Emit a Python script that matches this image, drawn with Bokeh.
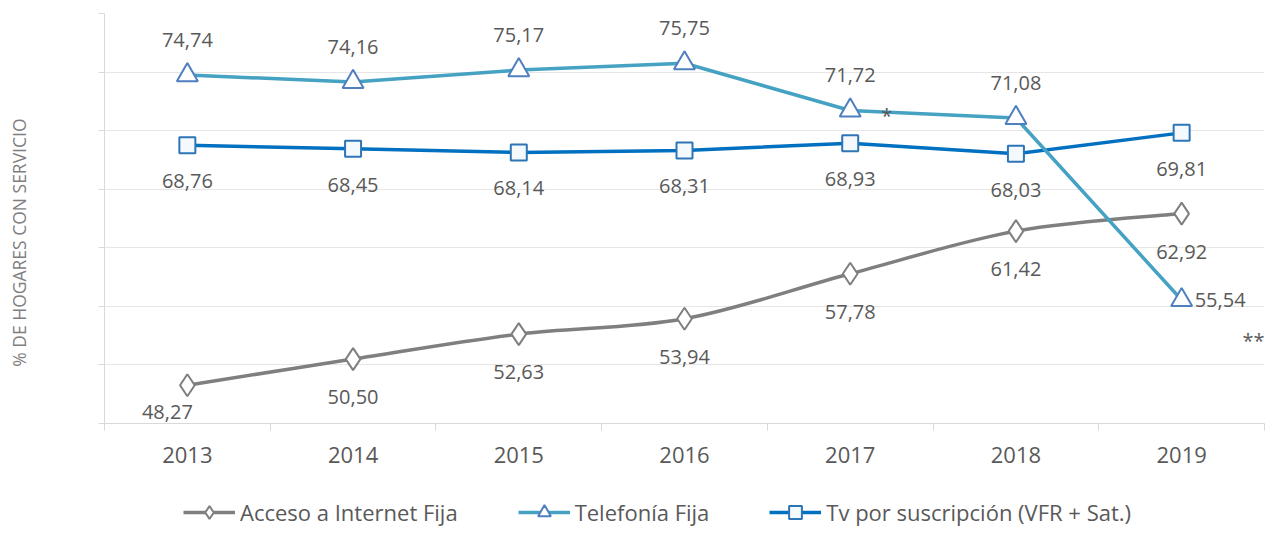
import numpy as np
from bokeh.plotting import figure
from bokeh.layouts import column, row
from bokeh.models import Range1d, FixedTicker, Legend, LegendItem, Label
from bokeh.core.properties import value
from bokeh.embed import file_html
from bokeh.resources import INLINE

# ---------------- data ----------------
years = ["2013", "2014", "2015", "2016", "2017", "2018", "2019"]
internet = [48.27, 50.50, 52.63, 53.94, 57.78, 61.42, 62.92]
telefonia = [74.74, 74.16, 75.17, 75.75, 71.72, 71.08, 55.54]
tv = [68.76, 68.45, 68.14, 68.31, 68.93, 68.03, 69.81]
y_ticks = [45, 50, 55, 60, 65, 70, 75, 80]
legend_labels = ["Acceso a Internet Fija", "Telefonía Fija", "Tv por suscripción (VFR + Sat.)"]
y_title = "% DE HOGARES CON SERVICIO"
note_1 = "*"
note_2 = "**"
note_1_pos = (4.22, 71.3)
note_2_pos = (6.5, 52.1)

FONT = "Open Sans"
TXT = "#595959"
C_INT = "#7F7F7F"
C_TEL = "#45A2C2"
C_TEL_MK = "#4F7FBF"
C_TV = "#0070C0"
C_TV_MK = "#2E75B6"

W_TITLE = 60
W_MAIN = 1210
H_MAIN = 476
H_LEG = 52


def fmt(v):
    return f"{v:.2f}".replace(".", ",")


def bare(fig):
    fig.axis.visible = False
    fig.xgrid.grid_line_color = None
    fig.ygrid.grid_line_color = None
    fig.outline_line_color = None


x = list(range(len(years)))
n = len(x)

# ---------------- y title panel ----------------
pt = figure(width=W_TITLE, height=H_MAIN, output_backend="svg", toolbar_location=None,
            x_range=Range1d(0, W_TITLE), y_range=Range1d(0, H_MAIN), min_border=0)
bare(pt)
pt.add_layout(Label(x=18, y=H_MAIN - 266, text=y_title, angle=np.pi / 2,
                    text_align="center", text_baseline="middle",
                    text_font=FONT, text_font_size="17.5px", text_color="#7F7F7F"))

# ---------------- main chart ----------------
p = figure(width=W_MAIN, height=H_MAIN, output_backend="svg", toolbar_location=None,
           x_range=Range1d(-0.5, n - 0.5), y_range=Range1d(45, 80),
           min_border_left=44, min_border_right=6, min_border_top=13, min_border_bottom=53)
p.outline_line_color = None

xa = p.xaxis[0]
xa.ticker = FixedTicker(ticks=x, minor_ticks=[i - 0.5 for i in range(n + 1)])
xa.major_label_overrides = {i: years[i] for i in x}
xa.major_tick_out = 0
xa.major_tick_in = 0
xa.minor_tick_out = 7
xa.minor_tick_in = 0
xa.minor_tick_line_color = "#D9D9D9"
xa.axis_line_color = "#D9D9D9"
xa.major_label_text_font = FONT
xa.major_label_text_font_size = "22px"
xa.major_label_text_color = TXT
xa.major_label_standoff = 16

ya = p.yaxis[0]
ya.ticker = FixedTicker(ticks=y_ticks, minor_ticks=[])
ya.major_label_overrides = {t: "" for t in y_ticks}
ya.major_label_text_font_size = "1px"
ya.major_tick_out = 6
ya.major_tick_in = 0
ya.major_tick_line_color = "#D9D9D9"
ya.axis_line_color = "#D9D9D9"

p.xgrid.grid_line_color = None
p.ygrid.grid_line_color = "#E6E6E6"

# Internet: smoothed curve (Catmull-Rom -> bezier through the data points)
X = np.array(x, dtype=float)
Y = np.array(internet, dtype=float)
xp = np.concatenate([[X[0]], X, [X[-1]]])
yp = np.concatenate([[Y[0]], Y, [Y[-1]]])
cx0 = X[:-1] + (xp[2:n + 1] - xp[0:n - 1]) / 6
cy0 = Y[:-1] + (yp[2:n + 1] - yp[0:n - 1]) / 6
cx1 = X[1:] - (xp[3:n + 2] - xp[1:n]) / 6
cy1 = Y[1:] - (yp[3:n + 2] - yp[1:n]) / 6
p.bezier(x0=X[:-1], y0=Y[:-1], x1=X[1:], y1=Y[1:], cx0=cx0, cy0=cy0, cx1=cx1, cy1=cy1,
         line_color=C_INT, line_width=3.5)
p.scatter(x, internet, marker="diamond", size=22, fill_color="white", line_color=C_INT, line_width=2)

# Tv
p.line(x, tv, line_color=C_TV, line_width=3.5)
p.scatter(x, tv, marker="square", size=16, fill_color="#F4F9FD", line_color=C_TV_MK, line_width=2)

# Telefonía
p.line(x, telefonia, line_color=C_TEL, line_width=3.5)
p.scatter(x, telefonia, marker="triangle", size=21, fill_color="white", line_color=C_TEL_MK, line_width=2)

# data labels
lbl = dict(text_font=value(FONT), text_font_size="20px", text_color=TXT,
           text_align="center", text_baseline="middle")
p.text(x[1:], internet[1:], text=[fmt(v) for v in internet[1:]], y_offset=38, **lbl)
p.text(x[:1], internet[:1], text=[fmt(v) for v in internet[:1]], x_offset=-20, y_offset=27, **lbl)
p.text(x, tv, text=[fmt(v) for v in tv], y_offset=36, **lbl)
p.text(x[:-1], telefonia[:-1], text=[fmt(v) for v in telefonia[:-1]], y_offset=-35, **lbl)
lbl_r = dict(lbl)
lbl_r["text_align"] = "left"
p.text(x[-1:], telefonia[-1:], text=[fmt(v) for v in telefonia[-1:]], x_offset=13, **lbl_r)

# notes
p.text([note_1_pos[0]], [note_1_pos[1]], text=[note_1], **lbl)
lbl_n = dict(lbl)
lbl_n["text_align"] = "right"
p.text([note_2_pos[0]], [note_2_pos[1]], text=[note_2], **lbl_n)

# ---------------- legend panel ----------------
# legend glyph renderers use the series data, which lies outside this panel's ranges
pl = figure(width=W_TITLE + W_MAIN, height=H_LEG, output_backend="svg", toolbar_location=None,
            x_range=Range1d(-100, -99), y_range=Range1d(-100, -99), min_border=0)
bare(pl)
li_int_l = pl.line(x, internet, line_color=C_INT, line_width=3.5)
li_int_m = pl.scatter(x, internet, marker="diamond", fill_color="white", line_color=C_INT, line_width=2)
li_tel_l = pl.line(x, telefonia, line_color=C_TEL, line_width=3.5)
li_tel_m = pl.scatter(x, telefonia, marker="triangle", fill_color="white", line_color=C_TEL_MK, line_width=2)
li_tv_l = pl.line(x, tv, line_color=C_TV, line_width=3.5)
li_tv_m = pl.scatter(x, tv, marker="square", fill_color="#F4F9FD", line_color=C_TV_MK, line_width=2)

legend = Legend(items=[
    LegendItem(label=legend_labels[0], renderers=[li_int_l, li_int_m]),
    LegendItem(label=legend_labels[1], renderers=[li_tel_l, li_tel_m]),
    LegendItem(label=legend_labels[2], renderers=[li_tv_l, li_tv_m]),
], orientation="horizontal", location=(183, 0))
legend.glyph_width = 52
legend.glyph_height = 32
legend.label_standoff = 5
legend.spacing = 60
legend.padding = 0
legend.margin = 0
legend.border_line_alpha = 0
legend.background_fill_alpha = 0
legend.label_text_font = FONT
legend.label_text_font_size = "22px"
legend.label_text_color = TXT
pl.add_layout(legend, "center")

layout = column(row(pt, p, spacing=0), pl, spacing=0)
open("out.html", "w").write(file_html(layout, INLINE))
